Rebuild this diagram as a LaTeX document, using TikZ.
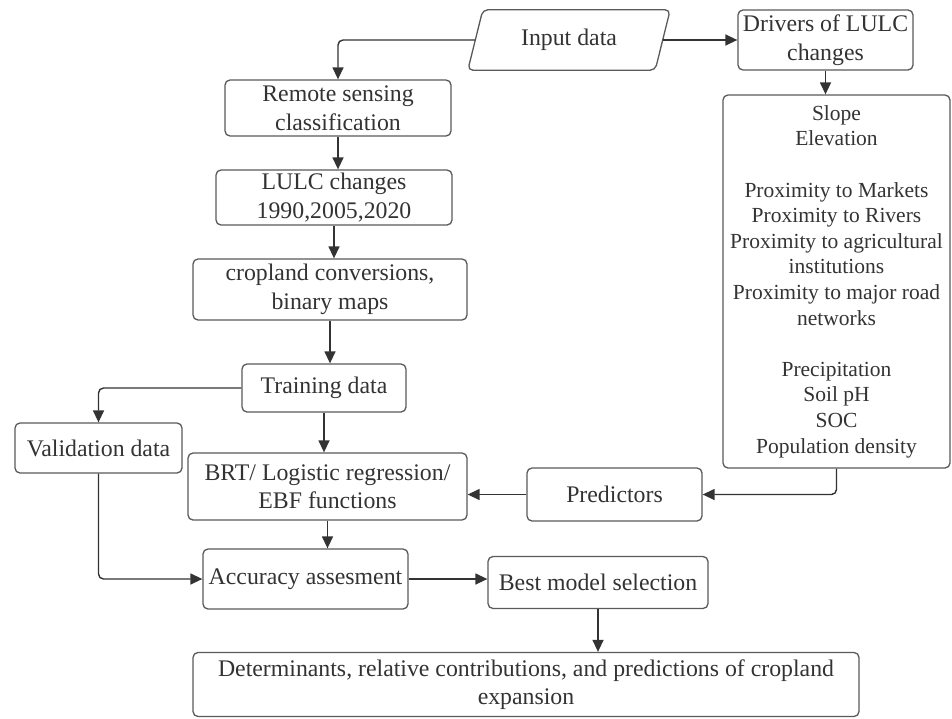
\documentclass[tikz,border=0pt]{standalone}
\usepackage{fontspec}
\setmainfont{Liberation Serif}
\usetikzlibrary{arrows.meta}
\definecolor{txt}{HTML}{333333}
\definecolor{edge}{HTML}{5A5A5A}
\definecolor{arr}{HTML}{333333}
\begin{document}
\begin{tikzpicture}[x=1pt,y=-1pt,
  box/.style={draw=edge, line width=1.3pt, rounded corners=5pt, align=center, text=txt, inner sep=0pt, font=\fontsize{23.8}{28.5}\selectfont},
  conn/.style={draw=arr, line width=1.4pt, rounded corners=5pt, -{Triangle[length=12pt,width=11pt]}}]
\useasboundingbox[fill=white] (0,0) rectangle (952,718);

% nodes
\node[align=center, text=txt, inner sep=0pt, font=\fontsize{23.8}{28.5}\selectfont, minimum width=187pt, minimum height=60pt] (inp) at (569,40) {Input data};
\draw[draw=edge, line width=1.3pt, rounded corners=5pt]
  ([xshift=-7.5pt]inp.south west) -- ([xshift=7.5pt]inp.north west) -- ([xshift=7.5pt]inp.north east) -- ([xshift=-7.5pt]inp.south east) -- cycle;

\node[box, minimum width=175pt, minimum height=60pt] (drv) at (825.5,40) {Drivers of LULC\\changes};
\node[box, minimum width=227pt, minimum height=373pt, font=\fontsize{21.5}{25.6}\selectfont] (big) at (836.5,281.5)
  {Slope\\Elevation\\[25.6pt]Proximity to Markets\\Proximity to Rivers\\Proximity to agricultural\\institutions\\Proximity to major road\\networks\\[25.6pt]Precipitation\\Soil pH\\SOC\\Population density};
\node[box, minimum width=226pt, minimum height=56pt] (rs) at (338,108) {Remote sensing\\classification};
\node[box, minimum width=236pt, minimum height=55pt] (lulc) at (334,197.5) {LULC changes\\1990,2005,2020};
\node[box, minimum width=274pt, minimum height=61pt] (crop) at (330,289.5) {cropland conversions,\\binary maps};
\node[box, minimum width=164pt, minimum height=48pt] (train) at (324,388) {Training data};
\node[box, minimum width=167pt, minimum height=50pt] (val) at (98.5,448) {Validation data};
\node[box, minimum width=279pt, minimum height=67pt] (brt) at (327.5,486.5) {BRT/ Logistic regression/\\EBF functions};
\node[box, minimum width=175pt, minimum height=53pt] (pred) at (614.5,494.5) {Predictors};
\node[box, minimum width=205pt, minimum height=60pt] (acc) at (305.5,579) {Accuracy assesment};
\node[box, minimum width=220pt, minimum height=52pt] (best) at (598,582.5) {Best model selection};
\node[box, minimum width=666pt, minimum height=64pt] (fin) at (526,684.5) {Determinants, relative contributions, and predictions of cropland\\expansion};

% connectors
\draw[conn] (inp.west) -| (rs.north);
\draw[conn] (inp.east) -- (drv.west);
\draw[conn] (drv.south) -- (drv.south |- big.north);
\draw[conn] (rs.south) -- (rs.south |- lulc.north);
\draw[conn] (lulc.south) -- (lulc.south |- crop.north);
\draw[conn] (crop.south) -- (crop.south |- train.north);
\draw[conn] (train.west) -| (val.north);
\draw[conn] (train.south) -- (train.south |- brt.north);
\draw[conn] (brt.south) -- (brt.south |- acc.north);
\draw[conn] (val.south) |- (acc.west);
\draw[conn] (acc.east) -- (acc.east -| best.west);
\draw[conn] (best.south) -- (best.south |- fin.north);
\draw[conn] (big.south) |- (pred.east);
\draw[conn] (pred.west) -- (pred.west -| brt.east);
\end{tikzpicture}
\end{document}
